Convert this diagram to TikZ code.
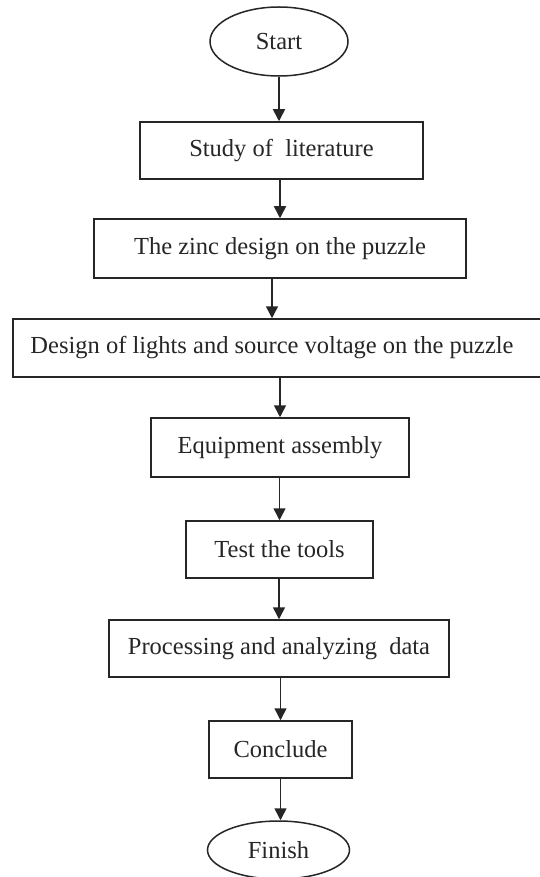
\documentclass[tikz,border=0pt]{standalone}
\usepackage{fontspec}
\setmainfont{Liberation Serif}
\usetikzlibrary{arrows.meta,shapes.geometric}
\begin{document}
\begin{tikzpicture}[x=1pt,y=-1pt,
  every node/.style={font=\fontsize{24.5}{29}\selectfont, text=black!85, inner sep=0pt},
  stepbox/.style={draw=black!85, line width=1.5pt, rectangle},
  term/.style={draw=black!85, line width=1.5pt, ellipse},
  arr/.style={draw=black!85, line width=1.5pt, -{Triangle[width=12pt,length=12pt]}}]
\useasboundingbox (0,0) rectangle (539,877);
\fill[white] (0,0) rectangle (539,877);
\node[term, minimum width=138pt, minimum height=69pt] (start) at (279,41.5) {Start};
\node[stepbox, minimum width=283pt, minimum height=57pt] (study) at (281.5,150.5) {Study of\ \ literature};
\node[stepbox, minimum width=372pt, minimum height=59pt] (zinc) at (280,248.5) {The zinc design on the puzzle};
\node[stepbox, minimum width=532pt, minimum height=58pt] (design) at (279,348) {};
\node (designtxt) at (272,348) {Design of lights and source voltage on the puzzle};
\node[stepbox, minimum width=258pt, minimum height=59pt] (equip) at (280,447.5) {Equipment assembly};
\node[stepbox, minimum width=187pt, minimum height=57pt] (test) at (279.5,549.5) {Test the tools};
\node[stepbox, minimum width=340pt, minimum height=57pt] (proc) at (279,648.5) {Processing and analyzing\ \ data};
\node[stepbox, minimum width=143pt, minimum height=57pt] (concl) at (280.5,749.5) {Conclude};
\node[term, minimum width=142pt, minimum height=58pt] (finish) at (278.5,850) {Finish};
\draw[arr] (start.south) -- (start.south |- study.north);
\draw[arr] (study.south -| zinc.north) -- (zinc.north);
\draw[arr] (zinc.south -| designtxt) -- (design.north -| designtxt);
\draw[arr] (design.south -| equip.north) -- (equip.north);
\draw[arr] (equip.south -| test.north) -- (test.north);
\draw[arr] (test.south -| proc.north) -- (proc.north);
\draw[arr] (proc.south -| concl.north) -- (concl.north);
\draw[arr] (concl.south) -- (concl.south |- finish.north);
\end{tikzpicture}
\end{document}
